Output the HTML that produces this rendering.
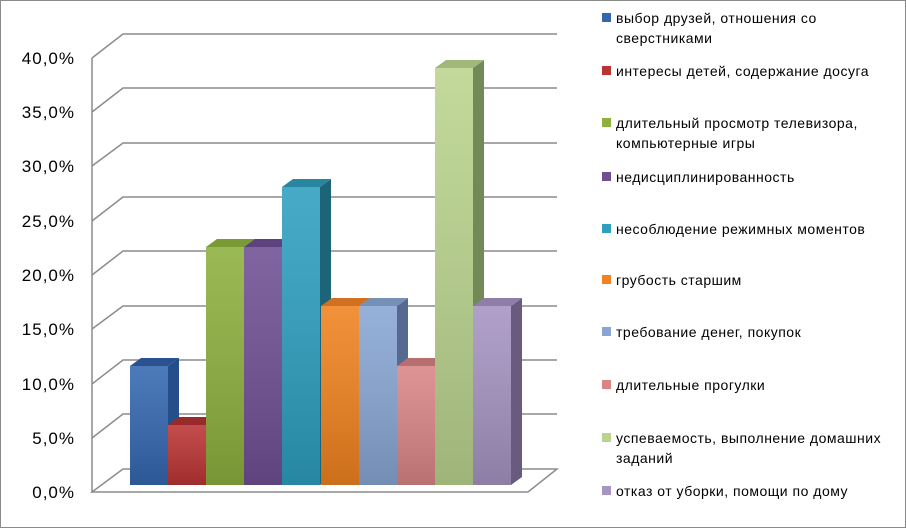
<!DOCTYPE html><html><head><meta charset="utf-8"><style>
body{margin:0;background:#fff}
.w{position:relative;width:904px;height:526px;border:1px solid #8a8a8a;overflow:hidden;font-family:"Liberation Sans","DejaVu Sans",sans-serif}
.lg{position:absolute;left:601px;font-size:14px;letter-spacing:0.5px;color:#000;line-height:20px}
.lg i{position:absolute;left:0;top:5px;width:9px;height:9px}
.lg span{position:absolute;left:14px;white-space:nowrap}
</style></head><body><div class="w">
<svg width="906" height="528" style="position:absolute;left:-1px;top:-1px">
<defs>
<linearGradient id="g" x1="0" y1="0" x2="0" y2="1"><stop offset="0" stop-color="#fff" stop-opacity=".12"/><stop offset="1" stop-color="#000" stop-opacity=".15"/></linearGradient>
</defs>
<g stroke="#8c8c8c" stroke-width="1.5" fill="none">
<path d="M92,58 L123,34 H557 M92,112 L123,88 H557 M92,166 L123,143 H557 M92,221 L123,197 H557 M92,275 L123,251 H557 M92,329 L123,306 H557 M92,384 L123,360 H557 M92,438 L123,414 H557"/>
<path d="M92,58 V492 M92,492 L123,469 H557 L528,492 Z"/>
</g>
<g font-family="Liberation Sans,sans-serif" font-size="17" letter-spacing="1" fill="#000" text-anchor="end">
<text x="75" y="64">40,0%</text><text x="75" y="118">35,0%</text><text x="75" y="172">30,0%</text><text x="75" y="227">25,0%</text><text x="75" y="281">20,0%</text><text x="75" y="335">15,0%</text><text x="75" y="390">10,0%</text><text x="75" y="444">5,0%</text><text x="75" y="498">0,0%</text>
</g>
<g>
<polygon points="168,366 179,358 179,477 168,485" fill="#254f8a"/><polygon points="130,366 141,358 179,358 168,366" fill="#2a5290"/><rect x="130" y="366" width="38" height="119" fill="#3467b0"/>
<polygon points="206,425 217,417 217,477 206,485" fill="#8e2525"/><polygon points="168,425 179,417 217,417 206,425" fill="#9a2a2a"/><rect x="168" y="425" width="38" height="60" fill="#bb3434"/>
<polygon points="244,247 255,239 255,477 244,485" fill="#6a8a2c"/><polygon points="206,247 217,239 255,239 244,247" fill="#7a9a35"/><rect x="206" y="247" width="38" height="238" fill="#8db03e"/>
<polygon points="282,247 293,239 293,477 282,485" fill="#4d3570"/><polygon points="244,247 255,239 293,239 282,247" fill="#5d427f"/><rect x="244" y="247" width="38" height="238" fill="#6f4f94"/>
<polygon points="320,187 331,179 331,477 320,485" fill="#1e6478"/><polygon points="282,187 293,179 331,179 320,187" fill="#2886a0"/><rect x="282" y="187" width="38" height="298" fill="#2e9fbf"/>
<polygon points="359,306 370,298 370,477 359,485" fill="#b0601a"/><polygon points="321,306 332,298 370,298 359,306" fill="#d07020"/><rect x="321" y="306" width="38" height="179" fill="#f0821f"/>
<polygon points="397,306 408,298 408,477 397,485" fill="#56698e"/><polygon points="359,306 370,298 408,298 397,306" fill="#7690b8"/><rect x="359" y="306" width="38" height="179" fill="#88a6d4"/>
<polygon points="435,366 446,358 446,477 435,485" fill="#9c5d5d"/><polygon points="397,366 408,358 446,358 435,366" fill="#b86f6f"/><rect x="397" y="366" width="38" height="119" fill="#d98585"/>
<polygon points="473,68 484,60 484,477 473,485" fill="#728a56"/><polygon points="435,68 446,60 484,60 473,68" fill="#a0b87a"/><rect x="435" y="68" width="38" height="417" fill="#bad48e"/>
<polygon points="511,306 522,298 522,477 511,485" fill="#695a80"/><polygon points="473,306 484,298 522,298 511,306" fill="#8e7ea8"/><rect x="473" y="306" width="38" height="179" fill="#a694c2"/>
<rect x="130" y="366" width="38" height="119" fill="url(#g)"/><rect x="168" y="425" width="38" height="60" fill="url(#g)"/><rect x="206" y="247" width="38" height="238" fill="url(#g)"/><rect x="244" y="247" width="38" height="238" fill="url(#g)"/><rect x="282" y="187" width="38" height="298" fill="url(#g)"/><rect x="321" y="306" width="38" height="179" fill="url(#g)"/><rect x="359" y="306" width="38" height="179" fill="url(#g)"/><rect x="397" y="366" width="38" height="119" fill="url(#g)"/><rect x="435" y="68" width="38" height="417" fill="url(#g)"/><rect x="473" y="306" width="38" height="179" fill="url(#g)"/>
</g>
</svg>
<div class="lg" style="top:7px"><i style="background:#3467b0"></i><span>выбор друзей, отношения со<br>сверстниками</span></div>
<div class="lg" style="top:60px"><i style="background:#bb3434"></i><span>интересы детей, содержание досуга</span></div>
<div class="lg" style="top:112px"><i style="background:#8db03e"></i><span>длительный просмотр телевизора,<br>компьютерные игры</span></div>
<div class="lg" style="top:166px"><i style="background:#6f4f94"></i><span>недисциплинированность</span></div>
<div class="lg" style="top:218px"><i style="background:#2e9fbf"></i><span>несоблюдение режимных моментов</span></div>
<div class="lg" style="top:269px"><i style="background:#f0821f"></i><span>грубость старшим</span></div>
<div class="lg" style="top:321px"><i style="background:#88a6d4"></i><span>требование денег, покупок</span></div>
<div class="lg" style="top:374px"><i style="background:#d98585"></i><span>длительные прогулки</span></div>
<div class="lg" style="top:427px"><i style="background:#bad48e"></i><span>успеваемость, выполнение домашних<br>заданий</span></div>
<div class="lg" style="top:480px"><i style="background:#a694c2"></i><span>отказ от уборки, помощи по дому</span></div>
</div></body></html>
